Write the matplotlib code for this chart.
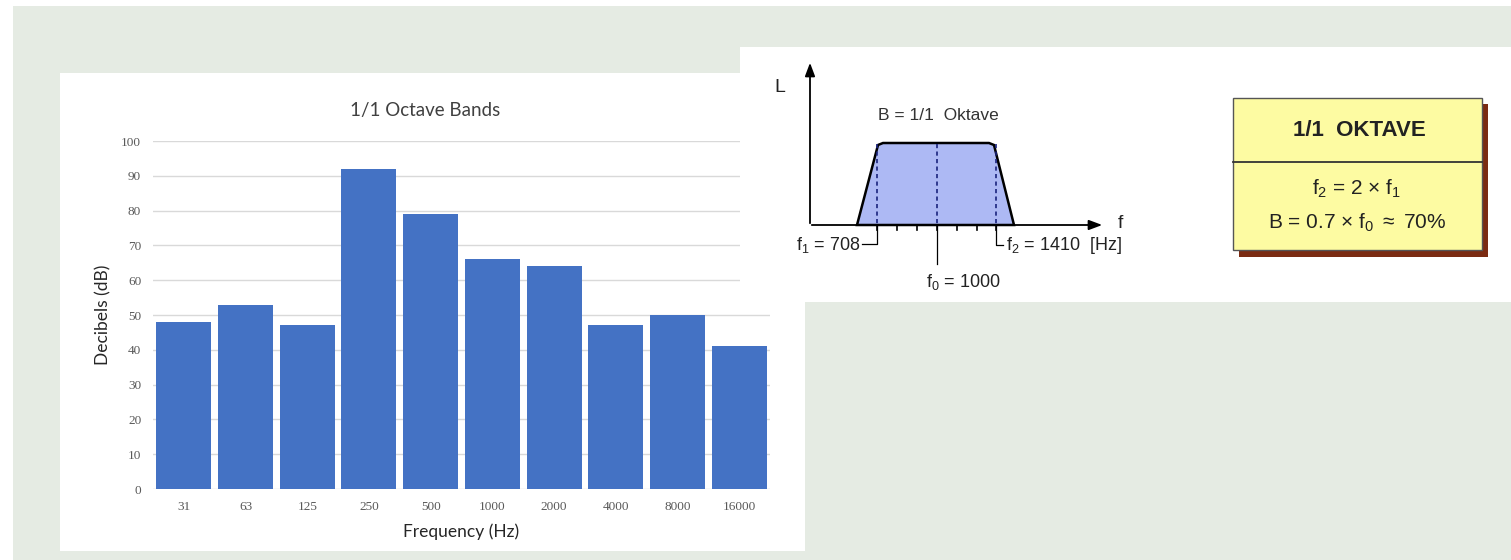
import matplotlib
matplotlib.use("Agg")
import matplotlib.pyplot as plt
from matplotlib.patches import Rectangle, Polygon

# chart data
bands = ["31", "63", "125", "250", "500", "1000", "2000", "4000", "8000", "16000"]
decibels = [48, 53, 47, 92, 79, 66, 64, 47, 50, 41]
yticks = list(range(0, 101, 10))

# octave diagram labels
f1_label = "f$_1$ = 708"
f0_label = "f$_0$ = 1000"
f2_label = "f$_2$ = 1410  [Hz]"

plt.rcParams["mathtext.fontset"] = "custom"
plt.rcParams["mathtext.rm"] = "Liberation Sans"
plt.rcParams["mathtext.it"] = "Liberation Sans"

W, H = 1511, 560
fig = plt.figure(figsize=(W / 100, H / 100), dpi=100)
fig.patch.set_facecolor("white")

# background layer in pixel coords
bg = fig.add_axes([0, 0, 1, 1], zorder=0)
bg.set_xlim(0, W)
bg.set_ylim(H, 0)
bg.axis("off")
bg.add_patch(Rectangle((13, 6), W - 13, H - 6, facecolor="#e5ebe3", edgecolor="none"))
bg.add_patch(Rectangle((60, 73), 745, 478, facecolor="white", edgecolor="none"))

# bar chart
ax = fig.add_axes([153 / W, 1 - 489 / H, 617 / W, 348 / H], zorder=1)
ax.set_facecolor("none")
x = range(len(bands))
ax.bar(x, decibels, width=0.89, color="#4472c4", zorder=3)
ax.set_xlim(-0.5, len(bands) - 0.5)
ax.set_ylim(0, 100)
ax.set_yticks(yticks)
ax.set_xticks(list(x))
ax.set_xticklabels(bands)
for s in ax.spines.values():
    s.set_visible(False)
ax.grid(axis="y", color="#d9d9d9", linewidth=1, zorder=0)
ax.tick_params(length=0, labelsize=9.5, labelcolor="#595959", pad=9)
ax.tick_params(axis="y", pad=8.5)
for lab in ax.get_xticklabels() + ax.get_yticklabels():
    lab.set_fontfamily("Liberation Serif")
ax.set_title("1/1 Octave Bands", fontsize=13.5, color="#404040", family="Lato", pad=18,
             x=(425 - 153) / 617)
ax.set_xlabel("Frequency (Hz)", fontsize=12.5, color="#262626", family="Lato", labelpad=7)
ax.set_ylabel("Decibels (dB)", fontsize=12.5, color="#262626", family="Lato", labelpad=7)

# diagram overlay in pixel coords
ov = fig.add_axes([0, 0, 1, 1], zorder=2)
ov.set_xlim(0, W)
ov.set_ylim(H, 0)
ov.axis("off")
ov.patch.set_visible(False)
ov.add_patch(Rectangle((740, 47), W - 740, 255, facecolor="white", edgecolor="none"))

x0, y0 = 810, 225
ov.annotate("", xy=(x0, 60), xytext=(x0, y0 + 1),
            arrowprops=dict(arrowstyle="-|>,head_width=0.3,head_length=0.8", color="black", lw=1.3))
ov.annotate("", xy=(1105, y0), xytext=(x0 - 1, y0),
            arrowprops=dict(arrowstyle="-|>,head_width=0.3,head_length=0.8", color="black", lw=1.3))
ov.text(780, 88, "L", fontsize=14, family="Liberation Sans", ha="center", va="center", color="#222222")
ov.text(1120, 224, "f", fontsize=14, family="Liberation Sans", ha="center", va="center", color="#222222")

trap = Polygon([(857, y0), (878, 145), (883, 143), (989, 143), (994, 145), (1014, y0)],
               closed=True, facecolor="#adb9f4", edgecolor="black", lw=1.8, zorder=3)
ov.add_patch(trap)
for xd in (877, 937, 996):
    ov.plot([xd, xd], [144, y0], color="#1a237e", lw=1.2, ls=(0, (2.5, 2)), zorder=4)
for xt in (877, 897, 917, 937, 957, 977, 996):
    ov.plot([xt, xt], [y0, y0 + 5], color="black", lw=1.2, zorder=4)
ov.text(938, 116, "B = 1/1  Oktave", fontsize=12.5, family="Liberation Sans", ha="center", va="center",
        color="#333333")

# f1 bracket
ov.plot([877, 877, 862], [y0, 244, 244], color="black", lw=0.9)
ov.text(860, 245, f1_label, fontsize=13, family="Liberation Sans", ha="right", va="center", color="#222222")
# f0 line
ov.plot([937, 937], [y0, 264], color="black", lw=0.9)
ov.text(926, 282, f0_label, fontsize=13, family="Liberation Sans", ha="left", va="center", color="#222222")
# f2 bracket
ov.plot([996, 996, 1003], [y0, 245, 245], color="black", lw=0.9)
ov.text(1006, 246, f2_label, fontsize=13, family="Liberation Sans", ha="left", va="center", color="#222222")

# info box
ov.add_patch(Rectangle((1239, 104), 249, 153, facecolor="#7b2b12", edgecolor="none"))
ov.add_patch(Rectangle((1233, 98), 249, 152, facecolor="#fdfba2", edgecolor="#555555", lw=1))
ov.plot([1233, 1482], [162, 162], color="#333333", lw=1.3)
ov.text(1359, 131, "1/1  OKTAVE", fontsize=16, weight="bold", family="Liberation Sans",
        ha="center", va="center", color="#222222")
ov.text(1357, 189, r"f$_2$ = 2 $\times$ f$_1$", fontsize=15, family="Liberation Sans",
        ha="center", va="center", color="#222222")
ov.text(1357, 223, r"B = 0.7 $\times$ f$_0$ $\approx$ 70%", fontsize=15, family="Liberation Sans",
        ha="center", va="center", color="#222222")

fig.savefig("out.png", dpi=100)
